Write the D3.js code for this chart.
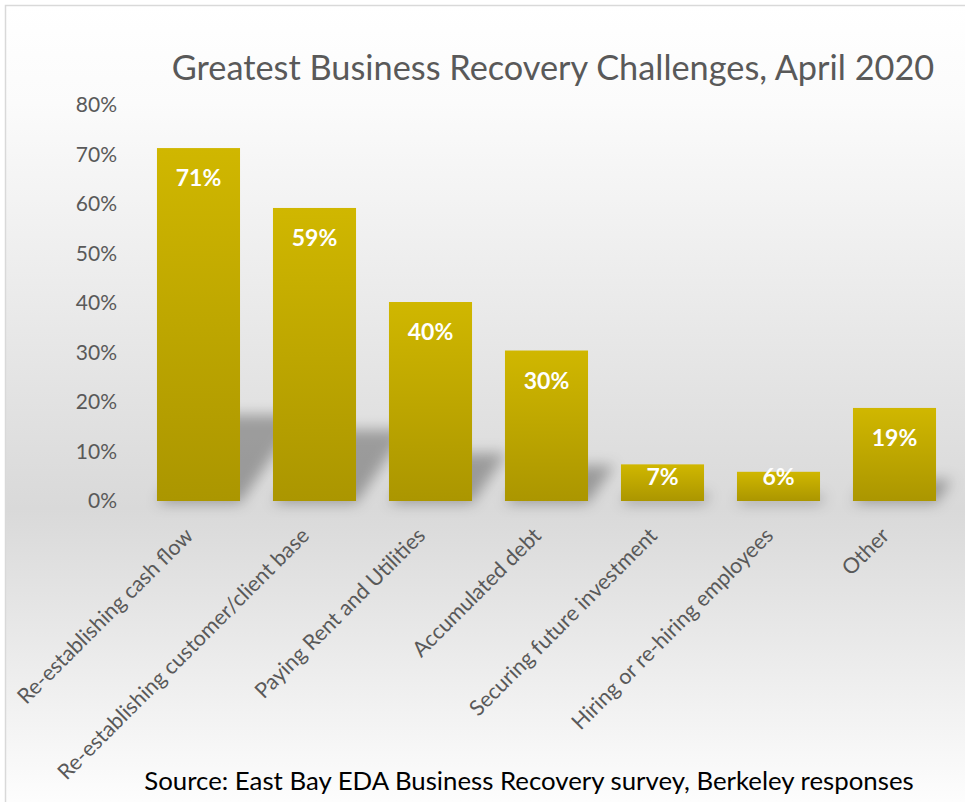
<!DOCTYPE html>
<html>
<head>
<meta charset="utf-8">
<script src="https://cdn.jsdelivr.net/npm/d3@7"></script>
<style>
  body { margin: 0; background: #fff; }
  text { font-family: Lato, "Noto Sans", sans-serif; }
</style>
</head>
<body>
<script>
const categories = [
  'Re-establishing cash flow',
  'Re-establishing customer/client base',
  'Paying Rent and Utilities',
  'Accumulated debt',
  'Securing future investment',
  'Hiring or re-hiring employees',
  'Other',
];
const shares = [0.713, 0.592, 0.402, 0.304, 0.074, 0.059, 0.188];
const yTicks = [0, 0.1, 0.2, 0.3, 0.4, 0.5, 0.6, 0.7, 0.8];
const title = 'Greatest Business Recovery Challenges, April 2020';
const source = 'Source: East Bay EDA Business Recovery survey, Berkeley responses';

function main() {
  const width = 965;
  const height = 802;
  const svg = d3.select('body').append('svg')
    .attr('width', width)
    .attr('height', height);

  const defs = svg.append('defs');

  const bg = defs.append('linearGradient')
    .attr('id', 'bg')
    .attr('x1', 0).attr('y1', 0).attr('x2', 0).attr('y2', 1);
  bg.append('stop').attr('offset', '0%').attr('stop-color', '#ffffff');
  bg.append('stop').attr('offset', '12%').attr('stop-color', '#fbfbfb');
  bg.append('stop').attr('offset', '62%').attr('stop-color', '#d9d9d9');
  bg.append('stop').attr('offset', '100%').attr('stop-color', '#ffffff');

  const barFill = defs.append('linearGradient')
    .attr('id', 'bar')
    .attr('x1', 0).attr('y1', 0).attr('x2', 0).attr('y2', 1);
  barFill.append('stop').attr('offset', '0%').attr('stop-color', '#d0b700');
  barFill.append('stop').attr('offset', '100%').attr('stop-color', '#ab9600');

  defs.append('filter')
    .attr('id', 'blur')
    .attr('x', '-50%').attr('y', '-50%').attr('width', '200%').attr('height', '200%')
    .append('feGaussianBlur')
    .attr('stdDeviation', 7);

  // chart area
  svg.append('rect')
    .attr('x', 5.5).attr('y', 5.5)
    .attr('width', width + 10).attr('height', height + 10)
    .attr('fill', 'url(#bg)')
    .attr('stroke', '#d9d9d9')
    .attr('stroke-width', 1.5);

  const x = d3.scaleBand()
    .domain(categories)
    .range([140.5, 952.5])
    .paddingInner(0.284)
    .paddingOuter(0.142);

  const y = d3.scaleLinear()
    .domain([0, 0.8])
    .range([501, 105]);

  const rows = categories.map((c, i) => ({ name: c, value: shares[i] }));

  // perspective shadows
  svg.append('g')
    .attr('filter', 'url(#blur)')
    .selectAll('path')
    .data(rows)
    .enter()
    .append('path')
    .attr('d', d => {
      const x0 = x(d.name);
      const x1 = x0 + x.bandwidth();
      const y0 = y(0) + 2;
      const sh = (y(0) - y(d.value)) * 0.25;
      const dx = sh * 0.7;
      return `M${x0},${y0}L${x1},${y0}L${x1 + dx},${y0 - sh}L${x0 + dx},${y0 - sh}Z`;
    })
    .attr('fill', '#000')
    .attr('fill-opacity', 0.3);

  // bars
  svg.append('g')
    .selectAll('rect')
    .data(rows)
    .enter()
    .append('rect')
    .attr('x', d => x(d.name))
    .attr('y', d => y(d.value))
    .attr('width', x.bandwidth())
    .attr('height', d => y(0) - y(d.value))
    .attr('fill', 'url(#bar)');

  // data labels
  svg.append('g')
    .selectAll('text')
    .data(rows)
    .enter()
    .append('text')
    .attr('x', d => x(d.name) + x.bandwidth() / 2)
    .attr('y', d => Math.min(y(d.value) + 30, y(0) - 24))
    .attr('dy', '0.36em')
    .attr('text-anchor', 'middle')
    .attr('fill', '#ffffff')
    .attr('font-weight', 'bold')
    .attr('font-size', 23)
    .text(d => d3.format('.0%')(d.value));

  // y axis
  const yAxis = d3.axisLeft(y)
    .tickValues(yTicks)
    .tickFormat(d3.format('.0%'))
    .tickSize(0)
    .tickPadding(0);
  const gy = svg.append('g')
    .attr('transform', 'translate(117,0)')
    .call(yAxis);
  gy.select('.domain').remove();
  gy.selectAll('text')
    .attr('font-family', 'Lato, "Noto Sans", sans-serif')
    .attr('font-size', 21)
    .attr('fill', '#595959');

  // x axis
  const xAxis = d3.axisBottom(x).tickSize(0).tickPadding(0);
  const gx = svg.append('g')
    .attr('transform', `translate(0,${y(0)})`)
    .call(xAxis);
  gx.select('.domain').remove();
  gx.selectAll('text')
    .attr('font-family', 'Lato, "Noto Sans", sans-serif')
    .attr('font-size', 21.5)
    .attr('fill', '#595959')
    .attr('text-anchor', 'end')
    .attr('dy', null)
    .attr('y', 0)
    .attr('transform', 'translate(-4,36) rotate(-45)');

  svg.append('text')
    .attr('x', 553)
    .attr('y', 80)
    .attr('text-anchor', 'middle')
    .attr('font-size', 34.3)
    .attr('fill', '#595959')
    .text(title);

  svg.append('text')
    .attr('x', 529)
    .attr('y', 790)
    .attr('text-anchor', 'middle')
    .attr('font-size', 25.8)
    .attr('fill', '#000000')
    .text(source);
}

main();
</script>
</body>
</html>
